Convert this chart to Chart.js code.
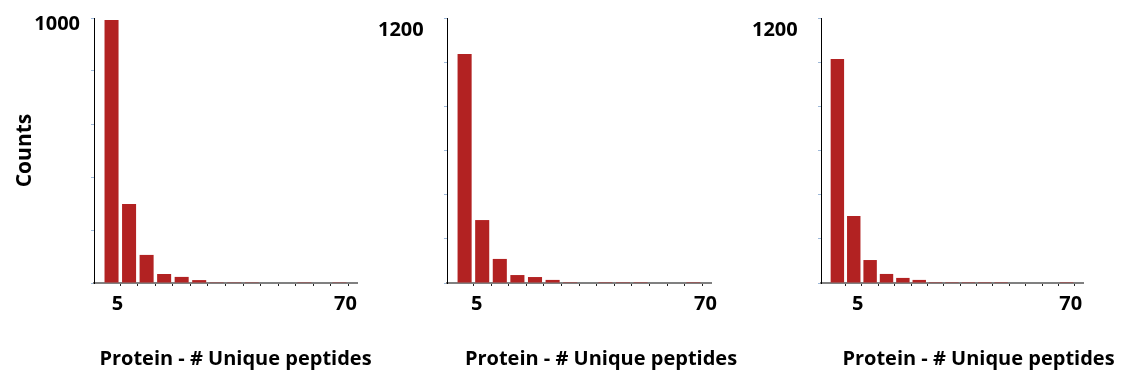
<!DOCTYPE html>
<html>
<head>
<meta charset="utf-8">
<script src="https://cdn.jsdelivr.net/npm/chart.js@4.4.1/dist/chart.umd.min.js"></script>
<style>
    html, body { margin: 0; padding: 0; background: #fff; width: 1130px; height: 389px; overflow: hidden; }
    canvas { position: absolute; top: 0; }
</style>
</head>
<body>
<canvas id="panel1" width="471" height="389" style="left:0px"></canvas>
<canvas id="panel2" width="446" height="389" style="left:378px"></canvas>
<canvas id="panel3" width="453" height="389" style="left:752px"></canvas>
<script>
// ─── Data ────────────────────────────────────────────
var bins1   = [5, 10, 15, 20, 25, 30, 35, 40, 45, 50, 55, 60, 65, 70];
var counts1 = [992, 298, 106, 34, 23, 11, 3, 3, 3, 0, 0, 3, 0, 3];

var bins2   = [5, 10, 15, 20, 25, 30, 35, 40, 45, 50, 55, 60, 65, 70];
var counts2 = [1037, 285, 109, 36, 27, 14, 4, 0, 4, 4, 4, 0, 0, 4];

var bins3   = [0, 5, 10, 15, 20, 25, 30, 35, 40, 45, 50, 55, 60, 65, 70];
var counts3 = [1014, 303, 104, 41, 23, 14, 4, 4, 4, 4, 4, 0, 0, 0, 4];

var yMaxes      = [1000, 1200, 1200];
var yStep       = 200;
var xTickLabels = ['5', '70'];
var xTitle      = 'Protein - # Unique peptides';
var yTitle      = 'Counts';

var FONT = "'Open Sans', sans-serif";

// ─── Panel builder ───────────────────────────────────

function makePanel(id, bins, counts, yMax, geo) {
    // one empty slot on each side of the bins, as in the original
    var labels = [''].concat(bins.map(String), ['']);
    var data   = [null].concat(counts, [null]);

    return new Chart(document.getElementById(id), {
        type: 'bar',
        data: {
            labels: labels,
            datasets: [{
                data: data,
                backgroundColor: '#b22222',
                barPercentage: geo.barPct,
                categoryPercentage: 1
            }]
        },
        options: {
            responsive: false, animation: false, events: [],
            layout: { padding: { top: 18, right: 0, bottom: 0, left: 0 } },
            plugins: {
                legend: { display: false },
                tooltip: { enabled: false },
                title: {
                    display: true, position: 'bottom', text: xTitle, color: '#000',
                    font: { family: FONT, size: 20, weight: 'bold' },
                    padding: { top: 0, bottom: 18 }
                }
            },
            scales: {
                x: {
                    offset: false,
                    afterFit: function(s) { s.height = 64; },
                    border: { color: '#808080', width: 2 },
                    grid: {
                        offset: true, drawOnChartArea: false, tickLength: 3,
                        color: function(c) { return c.index > 1 ? '#222' : 'rgba(0,0,0,0)'; }
                    },
                    ticks: {
                        autoSkip: false, maxRotation: 0, padding: 6,
                        labelOffset: geo.xLabelOffset, color: '#000',
                        font: { family: FONT, size: 20, weight: 'bold' },
                        callback: function(v) {
                            var lab = this.getLabelForValue(v);
                            return xTickLabels.indexOf(lab) >= 0 ? lab : '';
                        }
                    }
                },
                y: {
                    min: 0, max: yMax,
                    afterFit: function(s) { s.width = geo.yWidth; },
                    border: { color: '#000', width: 1 },
                    grid: { drawOnChartArea: false, tickLength: 3, color: '#9db8d8' },
                    ticks: {
                        stepSize: yStep, padding: geo.yPad, crossAlign: geo.crossAlign,
                        labelOffset: geo.yLabelOffset, color: '#000',
                        font: { family: FONT, size: 20, weight: 'bold', lineHeight: 0.6 },
                        callback: function(v) { return v === yMax ? String(v) : ''; }
                    },
                    title: {
                        display: !!geo.showYTitle, text: yTitle, color: '#000',
                        font: { family: FONT, size: 21, weight: 'bold' },
                        padding: { top: 12, bottom: 0 }
                    }
                },
                // empty axis on the right, only to keep room beside the plot
                spacer: {
                    type: 'linear', position: 'right', display: true,
                    grid: { display: false }, border: { display: false }, ticks: { display: false },
                    afterFit: function(s) { s.width = geo.rightRoom; }
                }
            }
        }
    });
}

makePanel('panel1', bins1, counts1, yMaxes[0],
    { yWidth: 94, rightRoom: 114, barPct: 0.8, xLabelOffset: 6, yPad: 11, crossAlign: 'near', yLabelOffset: 6, showYTitle: true });
makePanel('panel2', bins2, counts2, yMaxes[1],
    { yWidth: 69, rightRoom: 113, barPct: 0.8, xLabelOffset: 12, yPad: 0, crossAlign: 'far', yLabelOffset: 12.5 });
makePanel('panel3', bins3, counts3, yMaxes[2],
    { yWidth: 69, rightRoom: 122, barPct: 0.82, xLabelOffset: 4, yPad: 0, crossAlign: 'far', yLabelOffset: 12.5 });
</script>
</body>
</html>
